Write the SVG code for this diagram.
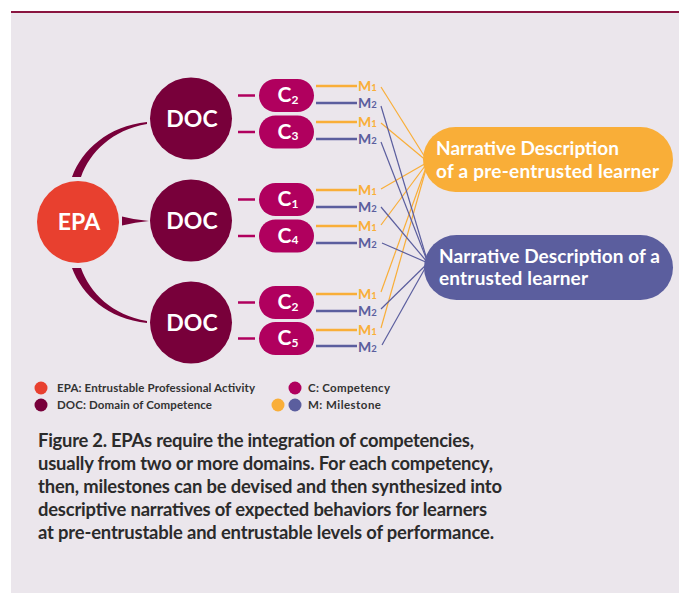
<svg xmlns="http://www.w3.org/2000/svg" width="679" height="593" viewBox="0 0 679 593">
<style>
.bg{fill:#ebe6ec}
.epa{fill:#e8402f}
.doc{fill:#78003a}
.cp{fill:#b0005e}
.big{font-family:Lato,"Open Sans","Liberation Sans",sans-serif;font-weight:700;fill:#fff}
.mt{font-family:Lato,"Open Sans","Liberation Sans",sans-serif;font-weight:700;font-size:14px}
.or{fill:#f9ae38}
.bl{fill:#5b5e9e}
.ol{stroke:#f9ae38;stroke-width:2.5}
.bll{stroke:#5b5e9e;stroke-width:2.5}
.of{stroke:#f9ae38;stroke-width:1.2;fill:none}
.bf{stroke:#5b5e9e;stroke-width:1.2;fill:none}
.dash{stroke:#b0005e;stroke-width:2.5}
.leg{font-family:Lato,"Open Sans","Liberation Sans",sans-serif;font-weight:700;font-size:11.5px;fill:#333}
.cap{font-family:Lato,"Open Sans","Liberation Sans",sans-serif;font-weight:700;font-size:18.4px;fill:#2b2b2b}
.nar{font-size:19px}
</style>
<rect class="bg" x="11" y="13" width="668" height="580"/>
<line x1="11" y1="12" x2="679" y2="12" stroke="#8a1540" stroke-width="1.8"/>

<g id="connectors">
  <path class="doc" d="M72,177 C82,150 108,126 147,122 L147,124 C112,130 90,152 81,177 Z"/>
  <path class="doc" d="M72,268 C82,295 108,319 147,323 L147,321 C112,315 90,293 81,268 Z"/>
  <path class="doc" d="M122,216.5 Q135,220 149,221 Q135,222 122,225.5 Z"/>
  <g>
    <line class="dash" x1="238" y1="95.5" x2="255" y2="95.5"/>
    <line class="dash" x1="238" y1="132" x2="255" y2="132"/>
    <line class="dash" x1="238" y1="199.5" x2="255" y2="199.5"/>
    <line class="dash" x1="238" y1="236" x2="255" y2="236"/>
    <line class="dash" x1="238" y1="302.5" x2="255" y2="302.5"/>
    <line class="dash" x1="238" y1="338.5" x2="255" y2="338.5"/>
  </g>
  <g>
    <line class="ol" x1="316" y1="86" x2="357" y2="86"/>
    <line class="bll" x1="316" y1="103" x2="357" y2="103"/>
    <line class="ol" x1="316" y1="122" x2="357" y2="122"/>
    <line class="bll" x1="316" y1="139" x2="357" y2="139"/>
    <line class="ol" x1="316" y1="190" x2="357" y2="190"/>
    <line class="bll" x1="316" y1="207" x2="357" y2="207"/>
    <line class="ol" x1="316" y1="226" x2="357" y2="226"/>
    <line class="bll" x1="316" y1="243" x2="357" y2="243"/>
    <line class="ol" x1="316" y1="294" x2="357" y2="294"/>
    <line class="bll" x1="316" y1="311" x2="357" y2="311"/>
    <line class="ol" x1="316" y1="330" x2="357" y2="330"/>
    <line class="bll" x1="316" y1="346" x2="357" y2="346"/>
  </g>
  <g>
    <line class="of" x1="381" y1="87" x2="428" y2="162"/>
    <line class="of" x1="381" y1="123" x2="428" y2="162"/>
    <line class="of" x1="381" y1="189" x2="428" y2="162"/>
    <line class="of" x1="381" y1="225" x2="428" y2="162"/>
    <line class="of" x1="381" y1="292" x2="428" y2="162"/>
    <line class="of" x1="381" y1="328" x2="428" y2="162"/>
    <line class="bf" x1="381" y1="106" x2="428" y2="263"/>
    <line class="bf" x1="381" y1="142" x2="428" y2="263"/>
    <line class="bf" x1="381" y1="207" x2="428" y2="263"/>
    <line class="bf" x1="382" y1="243" x2="428" y2="263"/>
    <line class="bf" x1="381" y1="309" x2="428" y2="263"/>
    <line class="bf" x1="382" y1="345" x2="428" y2="263"/>
  </g>
</g>

<g id="epa">
  <circle class="epa" cx="78" cy="222" r="41"/>
  <text class="big" x="79" y="229.5" font-size="23" text-anchor="middle">EPA</text>
</g>
<g id="doc1">
  <circle class="doc" cx="191" cy="118.5" r="41"/>
  <text class="big" x="192" y="126.5" font-size="23" text-anchor="middle">DOC</text>
</g>
<g id="doc2">
  <circle class="doc" cx="191" cy="220.5" r="41"/>
  <text class="big" x="192" y="228.5" font-size="23" text-anchor="middle">DOC</text>
</g>
<g id="doc3">
  <circle class="doc" cx="191" cy="322.5" r="41"/>
  <text class="big" x="192" y="330.5" font-size="23" text-anchor="middle">DOC</text>
</g>

<g id="c2a"><rect class="cp" x="259" y="79" width="55" height="33" rx="16.5"/><text class="big" x="288" y="102" font-size="21" text-anchor="middle">C<tspan font-size="12" dy="1.5">2</tspan></text></g>
<g id="c3"><rect class="cp" x="259" y="115.5" width="55" height="33" rx="16.5"/><text class="big" x="288" y="138.5" font-size="21" text-anchor="middle">C<tspan font-size="12" dy="1.5">3</tspan></text></g>
<g id="c1"><rect class="cp" x="259" y="183" width="55" height="33" rx="16.5"/><text class="big" x="288" y="206" font-size="21" text-anchor="middle">C<tspan font-size="12" dy="1.5">1</tspan></text></g>
<g id="c4"><rect class="cp" x="259" y="219.5" width="55" height="33" rx="16.5"/><text class="big" x="288" y="242.5" font-size="21" text-anchor="middle">C<tspan font-size="12" dy="1.5">4</tspan></text></g>
<g id="c2b"><rect class="cp" x="259" y="286" width="55" height="33" rx="16.5"/><text class="big" x="288" y="309" font-size="21" text-anchor="middle">C<tspan font-size="12" dy="1.5">2</tspan></text></g>
<g id="c5"><rect class="cp" x="259" y="322" width="55" height="33" rx="16.5"/><text class="big" x="288" y="345" font-size="21" text-anchor="middle">C<tspan font-size="12" dy="1.5">5</tspan></text></g>

<g id="milestones">
  <text class="mt or" x="358" y="91">M<tspan font-size="9.5">1</tspan></text>
  <text class="mt bl" x="358" y="108">M<tspan font-size="9.5">2</tspan></text>
  <text class="mt or" x="358" y="127">M<tspan font-size="9.5">1</tspan></text>
  <text class="mt bl" x="358" y="144">M<tspan font-size="9.5">2</tspan></text>
  <text class="mt or" x="358" y="195">M<tspan font-size="9.5">1</tspan></text>
  <text class="mt bl" x="358" y="212">M<tspan font-size="9.5">2</tspan></text>
  <text class="mt or" x="358" y="231">M<tspan font-size="9.5">1</tspan></text>
  <text class="mt bl" x="358" y="248">M<tspan font-size="9.5">2</tspan></text>
  <text class="mt or" x="358" y="299">M<tspan font-size="9.5">1</tspan></text>
  <text class="mt bl" x="358" y="316">M<tspan font-size="9.5">2</tspan></text>
  <text class="mt or" x="358" y="334.5">M<tspan font-size="9.5">1</tspan></text>
  <text class="mt bl" x="358" y="351.5">M<tspan font-size="9.5">2</tspan></text>
</g>

<g id="pre-entrusted">
  <rect class="or" x="423" y="127" width="250" height="65" rx="32.5"/>
  <text class="big nar" x="436" y="155" textLength="183" lengthAdjust="spacing">Narrative Description</text>
  <text class="big nar" x="436" y="178" textLength="223" lengthAdjust="spacing">of a pre-entrusted learner</text>
</g>
<g id="entrusted">
  <rect class="bl" x="424" y="235" width="249" height="65" rx="32.5"/>
  <text class="big nar" x="439" y="263" textLength="221" lengthAdjust="spacing">Narrative Description of a</text>
  <text class="big nar" x="439" y="285" textLength="149" lengthAdjust="spacing">entrusted learner</text>
</g>

<g id="legend">
  <circle class="epa" cx="41" cy="388" r="6.5"/>
  <text class="leg" x="57" y="391.5" textLength="198" lengthAdjust="spacing">EPA: Entrustable Professional Activity</text>
  <circle class="doc" cx="41" cy="405" r="6.5"/>
  <text class="leg" x="57" y="408.5" textLength="155" lengthAdjust="spacing">DOC: Domain of Competence</text>
  <circle class="cp" cx="295" cy="388" r="6.5"/>
  <text class="leg" x="308" y="391.5" textLength="82" lengthAdjust="spacing">C: Competency</text>
  <circle class="or" cx="278" cy="405" r="6.5"/>
  <circle class="bl" cx="295" cy="405" r="6.5"/>
  <text class="leg" x="308" y="408.5" textLength="73" lengthAdjust="spacing">M: Milestone</text>
</g>

<g id="caption">
  <text class="cap" x="38" y="447" textLength="436" lengthAdjust="spacing">Figure 2. EPAs require the integration of competencies,</text>
  <text class="cap" x="38" y="470" textLength="455" lengthAdjust="spacing">usually from two or more domains. For each competency,</text>
  <text class="cap" x="38" y="493" textLength="464" lengthAdjust="spacing">then, milestones can be devised and then synthesized into</text>
  <text class="cap" x="38" y="516" textLength="449" lengthAdjust="spacing">descriptive narratives of expected behaviors for learners</text>
  <text class="cap" x="38" y="539" textLength="456" lengthAdjust="spacing">at pre-entrustable and entrustable levels of performance.</text>
</g>
</svg>
